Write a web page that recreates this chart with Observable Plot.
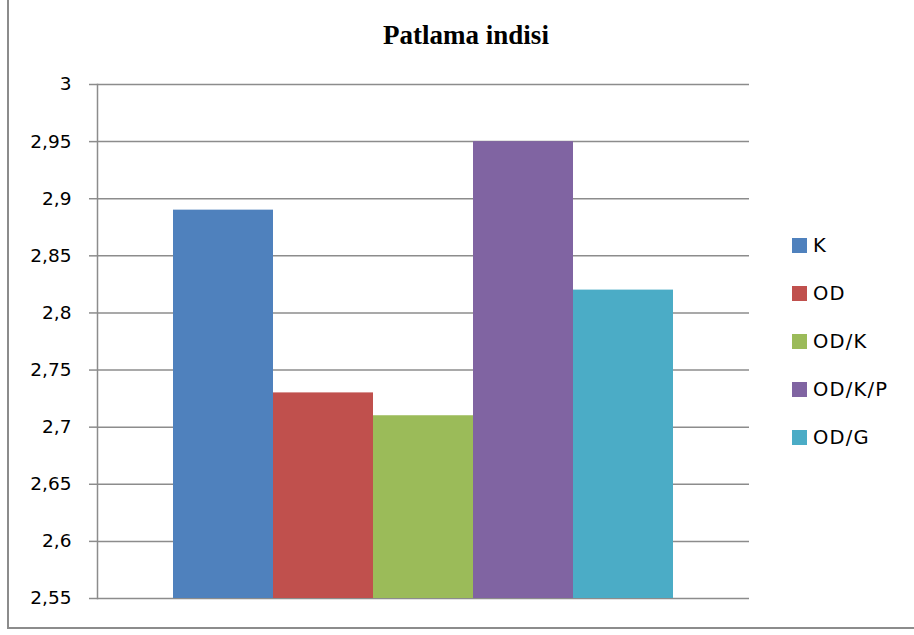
<!DOCTYPE html>
<html>
<head>
<meta charset="utf-8">
<script src="https://cdn.jsdelivr.net/npm/d3@7"></script>
<script src="https://cdn.jsdelivr.net/npm/@observablehq/plot@0.6"></script>
<style>
  html, body { margin: 0; padding: 0; background: #fff; }
  #wrap { position: relative; width: 914px; height: 635px; overflow: hidden; background: #fff; }
  #border { position: absolute; left: 7px; top: -10px; width: 950px; height: 639px;
            box-sizing: border-box; border: 2px solid #8c8c8c; }
  #title { position: absolute; left: 266px; width: 400px; top: 22px; text-align: center;
           font-family: "Liberation Serif", "Times New Roman", serif; font-weight: bold;
           font-size: 27px; line-height: 1; color: #000; }
  #chart { position: absolute; left: 0; top: 0; }
  #legend { position: absolute; left: 792px; top: 221px; }
  #legend > div, #legend div, #legend span { font-family: "DejaVu Sans", sans-serif !important;
                font-size: 19.5px !important; color: #000 !important; margin: 0 !important;
                columns: auto !important; min-height: 0 !important; }
  #legend > div > div { height: 48px !important; padding: 0 !important; margin: 0 !important;
                        display: flex !important; align-items: center !important; }
  #legend svg { margin-right: 6px !important; }
  #legend span, #legend > div > div { overflow: visible !important; max-width: none !important;
                                      letter-spacing: 1.2px; white-space: nowrap; }
</style>
</head>
<body>
<div id="wrap">
  <div id="border"></div>
  <div id="chart"></div>
  <div id="title">Patlama indisi</div>
  <div id="legend"></div>
</div>
<script>
// Treatment groups and their explosion index values
const groups = ["K", "OD", "OD/K", "OD/K/P", "OD/G"];
const values = [2.89, 2.73, 2.71, 2.95, 2.82];
const colors = ["#4F81BD", "#C0504D", "#9BBB59", "#8064A2", "#4BACC6"];
const yTicks = [2.55, 2.6, 2.65, 2.7, 2.75, 2.8, 2.85, 2.9, 2.95, 3];
const yMin = 2.55, yMax = 3;

const rows = groups.map((g, i) => ({group: g, value: values[i]}));
const comma = d => String(d).replace(".", ",");
const gridColor = "#8c8c8c";

const chart = Plot.plot({
  width: 914,
  height: 635,
  marginTop: 84,
  marginBottom: 37,
  marginLeft: 97,
  marginRight: 165,
  style: {fontFamily: "DejaVu Sans, sans-serif", background: "transparent", color: "#000"},
  x: {domain: groups, paddingInner: 0, paddingOuter: 0.745, axis: null},
  y: {domain: [yMin, yMax], axis: null, label: null},
  color: {domain: groups, range: colors},
  marks: [
    Plot.gridY(yTicks, {stroke: gridColor, strokeOpacity: 1, strokeWidth: 1.5}),
    Plot.barY(rows, {x: "group", y1: yMin, y2: "value", fill: "group", inset: 0}),
    Plot.frame({anchor: "left", stroke: gridColor, strokeWidth: 1.5}),
    Plot.axisY({ticks: yTicks, tickSize: 8, tickPadding: 18, tickFormat: comma, label: null,
                stroke: gridColor, strokeWidth: 1.5, color: "#000", fill: "#000",
                fontSize: 18.5, letterSpacing: 1.5, anchor: "left"})
  ]
});
document.getElementById("chart").appendChild(chart);

const legend = chart.legend("color", {columns: 1, swatchSize: 15, className: "lg"});
document.getElementById("legend").appendChild(legend);
</script>
</body>
</html>
